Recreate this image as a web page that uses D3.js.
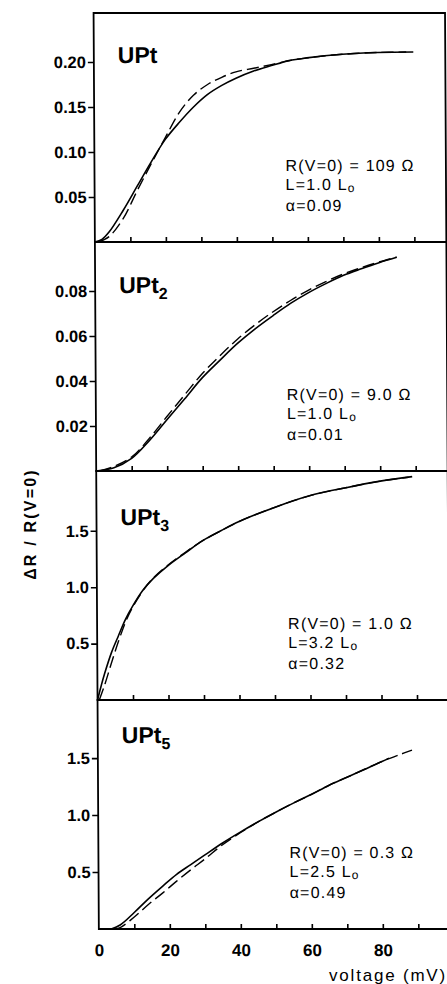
<!DOCTYPE html>
<html>
<head>
<meta charset="utf-8">
<script src="https://cdn.jsdelivr.net/npm/d3@7"></script>
<style>
  html, body { margin: 0; padding: 0; background: #fff; }
  svg { display: block; }
  text { fill: #000; }
</style>
</head>
<body>
<svg id="chart" width="447" height="984"></svg>
<script>
// ---------- DATA ----------
const titleBase = ["UPt", "UPt", "UPt", "UPt"];
const titleSub = ["", "2", "3", "5"];

const rValues = ["109", "9.0", "1.0", "0.3"];
const lValues = ["1.0", "1.0", "3.2", "2.5"];
const alphaValues = ["0.09", "0.01", "0.32", "0.49"];

const yMaxes = [0.2544, 0.1018, 2.03, 2.01];

const yTicks1 = [0.05, 0.10, 0.15, 0.20];
const yTickLabels1 = ["0.05", "0.10", "0.15", "0.20"];
const yTicks2 = [0.02, 0.04, 0.06, 0.08];
const yTickLabels2 = ["0.02", "0.04", "0.06", "0.08"];
const yTicks3 = [0.5, 1.0, 1.5];
const yTickLabels3 = ["0.5", "1.0", "1.5"];
const yTicks4 = [0.5, 1.0, 1.5];
const yTickLabels4 = ["0.5", "1.0", "1.5"];

const xMinorTicks = [10, 20, 30, 40, 50, 60, 70, 80, 90];
const xLabelTicks = [0, 20, 40, 60, 80];
const xLabels = ["0", "20", "40", "60", "80"];
const xMax = 99;

// UPt
const vS1 = [0, 2, 4, 8, 12, 16, 20, 24, 28, 32, 36, 40, 45, 50, 55, 60, 70, 80, 90];
const yS1 = [0, 0.003, 0.011, 0.035, 0.062, 0.089, 0.114, 0.133, 0.150, 0.164, 0.174, 0.182, 0.190, 0.196, 0.2015, 0.2045, 0.2085, 0.2105, 0.211];
const vD1 = [1, 4, 8, 12, 16, 20, 24, 28, 32, 36, 40, 45, 50, 55, 60, 70, 80, 88];
const yD1 = [0, 0.006, 0.026, 0.057, 0.087, 0.116, 0.144, 0.163, 0.175, 0.183, 0.189, 0.193, 0.197, 0.2015, 0.2045, 0.2085, 0.2105, 0.211];

// UPt2
const vS2 = [0, 5, 10, 15, 20, 25, 30, 35, 40, 45, 50, 55, 60, 65, 70, 75, 80, 85];
const yS2 = [0, 0.0014, 0.0056, 0.0135, 0.0228, 0.032, 0.0414, 0.0492, 0.0567, 0.0632, 0.069, 0.0745, 0.0792, 0.0833, 0.087, 0.0899, 0.0926, 0.0950];
const vD2 = [1, 5, 10, 15, 20, 25, 30, 35, 40, 45, 50, 55, 60, 65, 70, 75, 80, 85];
const yD2 = [0, 0.002, 0.0062, 0.0145, 0.0242, 0.0338, 0.0432, 0.0512, 0.0586, 0.065, 0.0707, 0.0758, 0.0803, 0.0842, 0.0876, 0.0904, 0.0929, 0.0951];

// UPt3
const vS3 = [0, 1, 2, 4, 6, 8, 10, 13, 16, 20, 25, 30, 35, 40, 50, 60, 70, 80, 89];
const yS3 = [0, 0.12, 0.23, 0.42, 0.57, 0.715, 0.83, 0.975, 1.08, 1.19, 1.305, 1.415, 1.50, 1.58, 1.705, 1.81, 1.88, 1.94, 1.98];
const vD3 = [0.5, 2, 4, 6, 8, 10, 13, 16, 20, 25, 30, 35, 40, 50, 60, 70, 80, 88];
const yD3 = [0, 0.13, 0.33, 0.52, 0.69, 0.82, 0.97, 1.085, 1.195, 1.31, 1.415, 1.50, 1.58, 1.705, 1.81, 1.88, 1.94, 1.975];

// UPt5
const vS4 = [3.5, 6, 10, 14, 18, 22, 26, 30, 35, 40, 45, 50, 55, 60, 65, 70, 75, 80, 82];
const yS4 = [0, 0.035, 0.145, 0.265, 0.375, 0.48, 0.565, 0.65, 0.755, 0.85, 0.94, 1.025, 1.105, 1.18, 1.26, 1.33, 1.40, 1.47, 1.50];
const vD4 = [4.5, 6, 10, 14, 18, 22, 26, 30, 35, 40, 45, 50, 55, 60, 65, 70, 75, 80, 85, 88.5];
const yD4 = [0, 0.012, 0.105, 0.215, 0.315, 0.42, 0.52, 0.615, 0.74, 0.845, 0.94, 1.025, 1.105, 1.18, 1.26, 1.33, 1.40, 1.47, 1.53, 1.57];

const yLabel = "ΔR / R(V=0)";
const xLabel = "voltage (mV)";

// ---------- LAYOUT ----------
const svg = d3.select("#chart");
const left = 93.5, pxPerMV = 3.55;
const top0 = 13, panelH = 229;
const titleDy = [50, 51, 54, 43];
const FONT = "'Liberation Sans', Arial, Helvetica, sans-serif";

const root = svg.append("g").attr("transform", "skewX(0.33)");

const panels = [
  { sv: vS1, sy: yS1, dv: vD1, dy: yD1, ticks: yTicks1, labels: yTickLabels1 },
  { sv: vS2, sy: yS2, dv: vD2, dy: yD2, ticks: yTicks2, labels: yTickLabels2 },
  { sv: vS3, sy: yS3, dv: vD3, dy: yD3, ticks: yTicks3, labels: yTickLabels3 },
  { sv: vS4, sy: yS4, dv: vD4, dy: yD4, ticks: yTicks4, labels: yTickLabels4 }
];

const x = d3.scaleLinear().domain([0, xMax]).range([left, left + xMax * pxPerMV]);

panels.forEach((p, i) => {
  const t = top0 + i * panelH, b = t + panelH;
  const y = d3.scaleLinear().domain([0, yMaxes[i]]).range([b, t]);
  const g = root.append("g");

  // frame
  g.append("rect")
    .attr("x", x(0)).attr("y", t)
    .attr("width", x(xMax) - x(0)).attr("height", panelH)
    .attr("fill", "none").attr("stroke", "#000").attr("stroke-width", 1.8);

  // y axis ticks (outward)
  const ya = g.append("g").attr("transform", `translate(${x(0)},0)`)
    .call(d3.axisLeft(y).tickValues(p.ticks).tickSize(6).tickPadding(2)
      .tickFormat((d, k) => p.labels[k]));
  ya.select(".domain").remove();
  ya.selectAll("line").attr("stroke", "#000").attr("stroke-width", 1.6);
  ya.selectAll("text").attr("font-family", FONT).attr("font-size", 16.5)
    .attr("font-weight", "bold").attr("fill", "#000");

  // x axis ticks (inward, from bottom)
  const xa = g.append("g").attr("transform", `translate(0,${b})`)
    .call(d3.axisTop(x).tickValues(xMinorTicks).tickSize(5).tickFormat(""));
  xa.select(".domain").remove();
  xa.selectAll("line").attr("stroke", "#000").attr("stroke-width", 1.6);

  // curves
  const line = d3.line().x(d => x(d[0])).y(d => y(d[1])).curve(d3.curveCatmullRom);
  g.append("path").datum(p.sv.map((v, k) => [v, p.sy[k]]))
    .attr("d", line).attr("fill", "none").attr("stroke", "#000")
    .attr("stroke-width", 1.6);
  g.append("path").datum(p.dv.map((v, k) => [v, p.dy[k]]))
    .attr("d", line).attr("fill", "none").attr("stroke", "#000")
    .attr("stroke-width", 1.4).attr("stroke-dasharray", "12,5");

  // title
  const tt = g.append("text").attr("x", x(0) + 24).attr("y", t + titleDy[i])
    .attr("font-family", FONT).attr("font-size", 23).attr("font-weight", "bold")
    .text(titleBase[i]);
  if (titleSub[i]) {
    tt.append("tspan").attr("dy", 6).attr("font-size", 16).text(titleSub[i]);
  }

  // annotation (three lines)
  const ax = x(0) + 191;
  const an = g.append("g").attr("font-family", FONT).attr("font-size", 16)
    .attr("letter-spacing", 1.2);
  an.append("text").attr("x", ax).attr("y", t + 158).text(`R(V=0) = ${rValues[i]} Ω`);
  const l2 = an.append("text").attr("x", ax).attr("y", t + 177).text(`L=${lValues[i]} L`);
  l2.append("tspan").attr("dy", 2.5).attr("font-size", 12).text("o");
  an.append("text").attr("x", ax).attr("y", t + 198).text(`α=${alphaValues[i]}`);

  // bottom labels
  if (i === panels.length - 1) {
    const xb = g.append("g").attr("transform", `translate(0,${b})`)
      .call(d3.axisBottom(x).tickValues(xLabelTicks).tickSize(0).tickPadding(15)
        .tickFormat((d, k) => xLabels[k]));
    xb.select(".domain").remove();
    xb.selectAll("text").attr("font-family", FONT).attr("font-size", 17)
      .attr("font-weight", "bold").attr("fill", "#000");
  }
});

// axis titles
svg.append("text")
  .attr("transform", "translate(36,524) rotate(-90)")
  .attr("text-anchor", "middle")
  .attr("font-family", FONT).attr("font-size", 16).attr("font-weight", "bold")
  .attr("letter-spacing", 2.2)
  .text(yLabel);

svg.append("text")
  .attr("x", 329).attr("y", 981)
  .attr("font-family", FONT).attr("font-size", 17)
  .attr("letter-spacing", 1.8)
  .text(xLabel);
</script>
</body>
</html>
